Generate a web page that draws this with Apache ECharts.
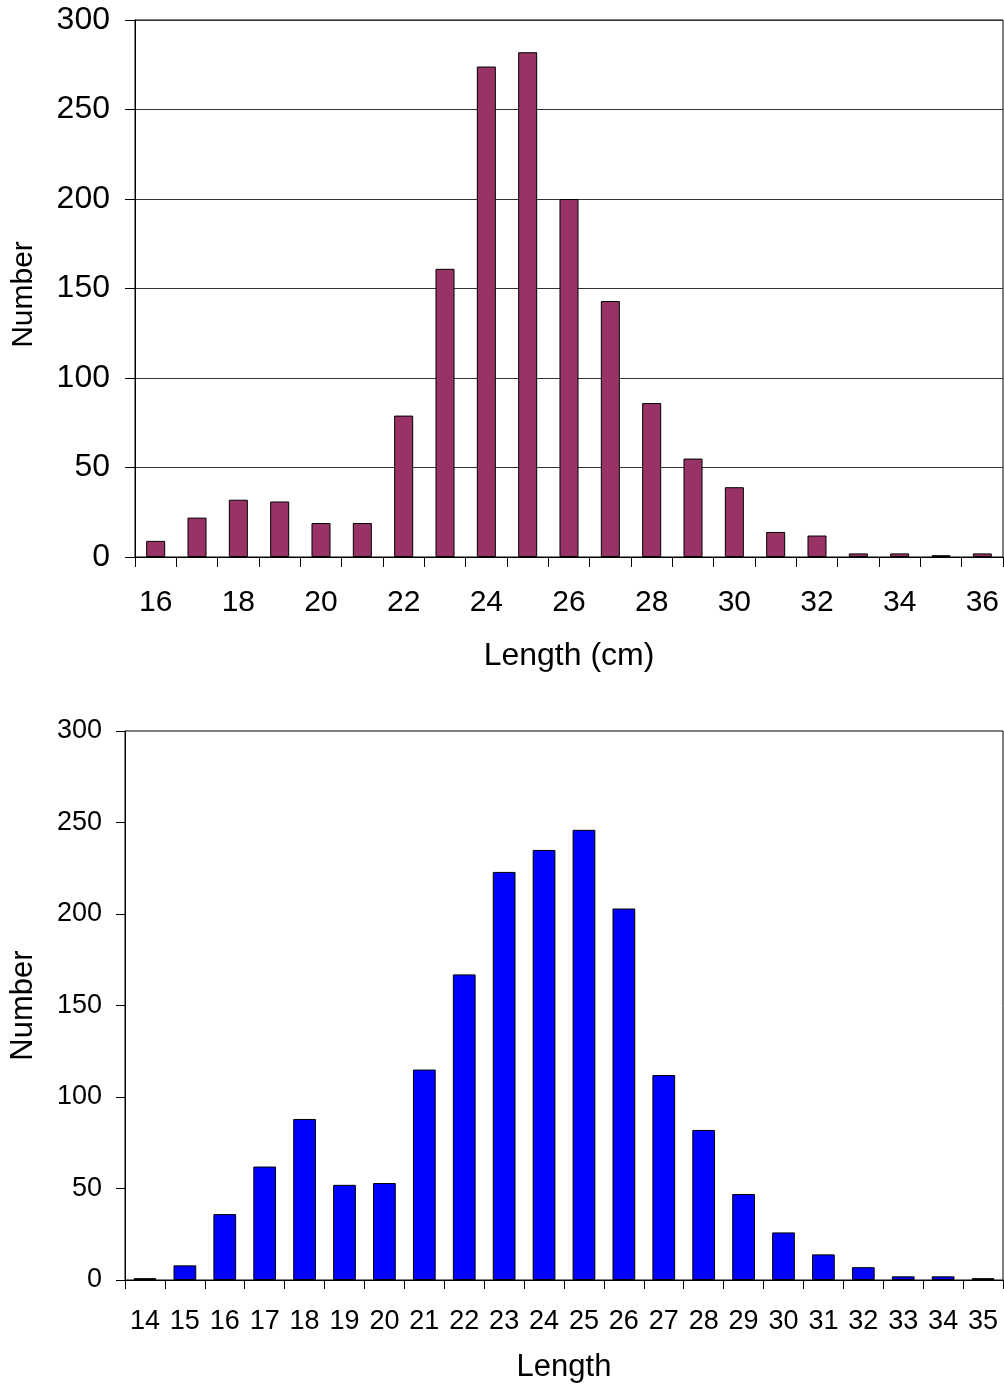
<!DOCTYPE html>
<html>
<head>
<meta charset="utf-8">
<script src="https://cdn.jsdelivr.net/npm/echarts@6/dist/echarts.min.js"></script>
<style>html,body{margin:0;padding:0;background:#fff}#c{width:1004px;height:1387px}</style>
</head>
<body>
<div id="c"></div>
<script>
var topCategories = ['16','17','18','19','20','21','22','23','24','25','26','27','28','29','30','31','32','33','34','35','36'];
var topValues = [9,22,32,31,19,19,79,161,274,282,200,143,86,55,39,14,12,2,2,1,2];
var bottomCategories = ['14','15','16','17','18','19','20','21','22','23','24','25','26','27','28','29','30','31','32','33','34','35'];
var bottomValues = [1,8,36,62,88,52,53,115,167,223,235,246,203,112,82,47,26,14,7,2,2,1];
var yTicksMax = 300, yTickStep = 50;

var FONT = '"Liberation Sans", Arial, sans-serif';
var chart = echarts.init(document.getElementById('c'));
chart.setOption({
  animation: false,
  backgroundColor: '#fff',
  grid: [
    {left: 135, top: 20, right: 1, height: 537, show: true, borderColor: '#000', borderWidth: 1},
    {left: 123, top: 731, right: 1, height: 549, show: true, borderColor: '#000', borderWidth: 1}
  ],
  xAxis: [
    {
      type: 'category', gridIndex: 0, data: topCategories,
      name: 'Length (cm)', nameLocation: 'middle', nameGap: 83,
      nameTextStyle: {fontFamily: FONT, fontSize: 32, color: '#000'},
      axisLine: {lineStyle: {color: '#000', width: 1}},
      axisTick: {show: true, interval: 0, length: 10, lineStyle: {color: '#000'}},
      axisLabel: {interval: 1, margin: 31, fontFamily: FONT, fontSize: 30, color: '#000'}
    },
    {
      type: 'category', gridIndex: 1, data: bottomCategories,
      name: 'Length', nameLocation: 'middle', nameGap: 72,
      nameTextStyle: {fontFamily: FONT, fontSize: 31, color: '#000'},
      axisLine: {lineStyle: {color: '#000', width: 1}},
      axisTick: {show: true, interval: 0, length: 9, lineStyle: {color: '#000'}},
      axisLabel: {interval: 0, margin: 28, fontFamily: FONT, fontSize: 27, color: '#000'}
    }
  ],
  yAxis: [
    {
      type: 'value', gridIndex: 0, min: 0, max: yTicksMax, interval: yTickStep,
      name: 'Number', nameLocation: 'middle', nameGap: 96,
      nameTextStyle: {fontFamily: FONT, fontSize: 30, color: '#000', padding: [0, 12, 0, 0]},
      axisLine: {show: true, lineStyle: {color: '#000', width: 1}},
      axisTick: {show: true, length: 10, lineStyle: {color: '#000'}},
      axisLabel: {margin: 25, fontFamily: FONT, fontSize: 32, color: '#000'},
      splitLine: {show: true, lineStyle: {color: '#333', width: 1}}
    },
    {
      type: 'value', gridIndex: 1, min: 0, max: yTicksMax, interval: yTickStep,
      name: 'Number', nameLocation: 'middle', nameGap: 86,
      nameTextStyle: {fontFamily: FONT, fontSize: 31, color: '#000'},
      axisLine: {show: true, lineStyle: {color: '#000', width: 1}},
      axisTick: {show: true, length: 9, lineStyle: {color: '#000'}},
      axisLabel: {margin: 23, fontFamily: FONT, fontSize: 27, color: '#000'},
      splitLine: {show: false}
    }
  ],
  series: [
    {
      type: 'bar', xAxisIndex: 0, yAxisIndex: 0, data: topValues,
      barCategoryGap: '54%',
      itemStyle: {color: '#993366', borderColor: '#000', borderWidth: 1}
    },
    {
      type: 'bar', xAxisIndex: 1, yAxisIndex: 1, data: bottomValues,
      barCategoryGap: '43%',
      itemStyle: {color: '#0000FF', borderColor: '#000', borderWidth: 1}
    }
  ]
});
</script>
</body>
</html>
